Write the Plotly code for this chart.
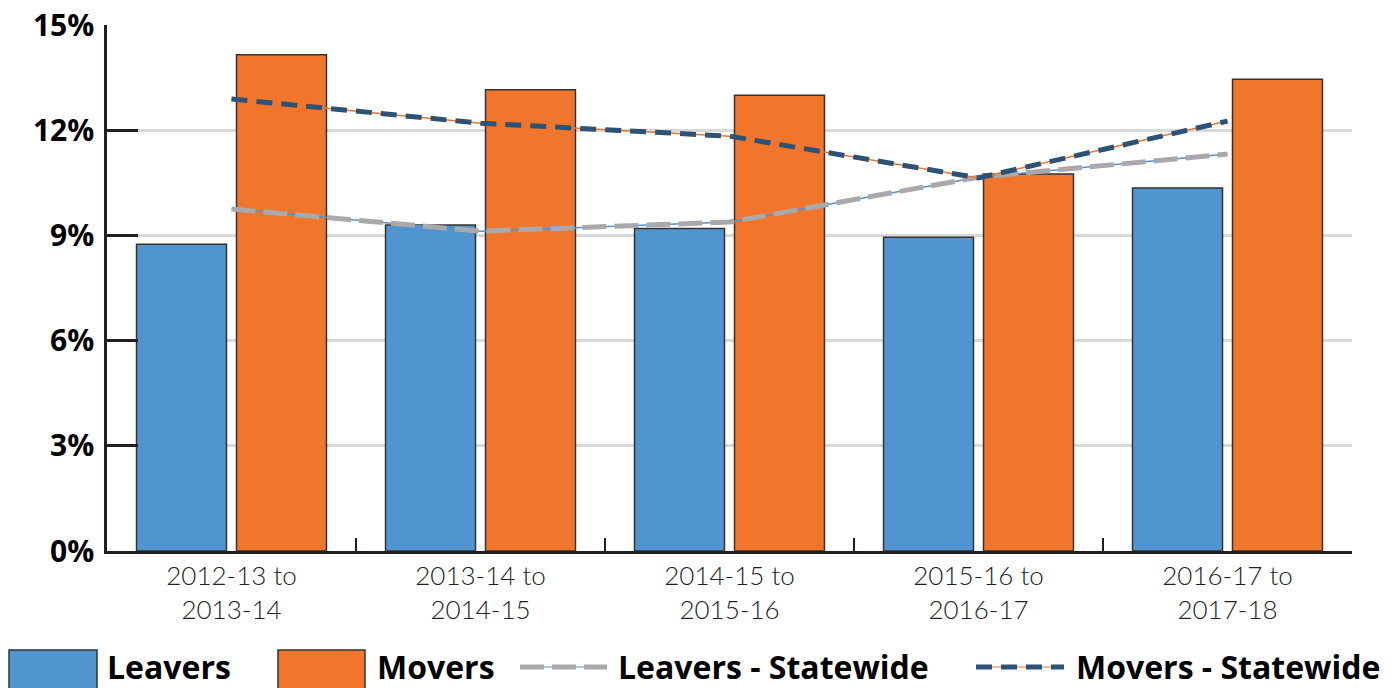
import plotly.graph_objects as go

# ----- data ----- #
periods = ["2012-13 to<br>2013-14", "2013-14 to<br>2014-15", "2014-15 to<br>2015-16",
           "2015-16 to<br>2016-17", "2016-17 to<br>2017-18"]
leavers = [8.75, 9.3, 9.2, 8.95, 10.35]
movers = [14.15, 13.15, 13.0, 10.75, 13.45]
leavers_state = [9.75, 9.12, 9.38, 10.66, 11.32]
movers_state = [12.89, 12.2, 11.83, 10.64, 12.26]
y_ticks = [0, 3, 6, 9, 12, 15]
y_labels = ['0%', '3%', '6%', '9%', '12%', '15%']

colors = {
    'leavers': '#5095CF',
    'movers': '#F1762C',
    'leavers_state': '#A9A9AB',
    'movers_state': '#2C5275',
    'outline': '#333333',
}
bold_font = 'Open Sans'

fig = go.Figure()

fig.add_trace(go.Bar(x=periods, y=leavers, name='Leavers', marker_color=colors['leavers'],
                     marker_line=dict(color=colors['outline'], width=1.5)))
fig.add_trace(go.Bar(x=periods, y=movers, name='Movers', marker_color=colors['movers'],
                     marker_line=dict(color=colors['outline'], width=1.5)))

# thin solid underline + thick dashed line on top
fig.add_trace(go.Scatter(x=periods, y=leavers_state, mode='lines',
                         line=dict(color=colors['leavers'], width=1.5), showlegend=False))
fig.add_trace(go.Scatter(x=periods, y=leavers_state, mode='lines', name='Leavers - Statewide',
                         line=dict(color=colors['leavers_state'], width=5, dash='24px,8px')))
fig.add_trace(go.Scatter(x=periods, y=movers_state, mode='lines',
                         line=dict(color=colors['movers'], width=1.5), showlegend=False))
fig.add_trace(go.Scatter(x=periods, y=movers_state, mode='lines', name='Movers - Statewide',
                         line=dict(color=colors['movers_state'], width=5, dash='16px,9px')))

# ----- layout ----- #
W, H = 1394, 688
L, R, T, B = 107, 1352, 25, 551


def px_x(x):
    # window pixel -> paper coordinate
    return (x - L) / (R - L)


def px_y(y):
    return (B - y) / (B - T)


fig.update_layout(
    width=W, height=H,
    margin=dict(l=L, r=W - R, t=T, b=H - B),
    plot_bgcolor='white', paper_bgcolor='white',
    barmode='group', bargap=0.197, bargroupgap=0.1,
    showlegend=False,
    font=dict(family='Lato', color='#000000'),
)

fig.update_yaxes(
    range=[0, 15], tickvals=y_ticks, ticktext=y_labels, automargin=False,
    ticklabeloverflow='allow',
    showline=True, linecolor='#231F20', linewidth=2.5,
    ticks='inside', ticklen=31, tickwidth=2.5, tickcolor='#231F20',
    showgrid=True, gridcolor='#D9D9D9', gridwidth=2.5,
    zeroline=False,
    tickfont=dict(family=bold_font, size=30, color='#000000', weight='bold'),
    ticklabelstandoff=4,
)
fig.update_xaxes(
    showline=True, linecolor='#231F20', linewidth=2.5, automargin=False,
    ticks='inside', tickson='boundaries', ticklen=13, tickwidth=2, tickcolor='#231F20',
    tickfont=dict(family='Lato', size=26, color='#222222', weight=300),
    range=[-0.5, 4.5],
)

# ----- legend (drawn by hand: big swatches) ----- #
legend_y = 667
shapes = []
annotations = []
boxes = [(9, 97, colors['leavers'], 'Leavers', 105),
         (278, 365, colors['movers'], 'Movers', 375)]
for x0, x1, col, label, tx in boxes:
    shapes.append(dict(type='rect', xref='paper', yref='paper',
                       x0=px_x(x0), x1=px_x(x1), y0=px_y(650), y1=px_y(692),
                       fillcolor=col, line=dict(color=colors['outline'], width=1.5)))
    annotations.append(dict(text=label, xref='paper', yref='paper', x=px_x(tx), y=px_y(legend_y),
                            xanchor='left', yanchor='middle', showarrow=False,
                            font=dict(family=bold_font, size=32, color='#000000', weight='bold')))

lines = [(520, 607, colors['leavers_state'], colors['leavers'], '24px,8px', 'Leavers - Statewide', 616),
         (976, 1064, colors['movers_state'], colors['movers'], '16px,9px', 'Movers - Statewide', 1074)]
for x0, x1, col, under, dash, label, tx in lines:
    shapes.append(dict(type='line', xref='paper', yref='paper',
                       x0=px_x(x0), x1=px_x(x1), y0=px_y(legend_y), y1=px_y(legend_y),
                       line=dict(color=under, width=1)))
    shapes.append(dict(type='line', xref='paper', yref='paper',
                       x0=px_x(x0), x1=px_x(x1), y0=px_y(legend_y), y1=px_y(legend_y),
                       line=dict(color=col, width=5, dash=dash)))
    annotations.append(dict(text=label, xref='paper', yref='paper', x=px_x(tx), y=px_y(legend_y),
                            xanchor='left', yanchor='middle', showarrow=False,
                            font=dict(family=bold_font, size=32, color='#000000', weight='bold')))

fig.update_layout(shapes=shapes, annotations=annotations)

# drop the default 8px body margin so the figure fills the window
fig.write_html("out.html", config={'displayModeBar': False},
               post_script="document.body.style.margin = '0';")
